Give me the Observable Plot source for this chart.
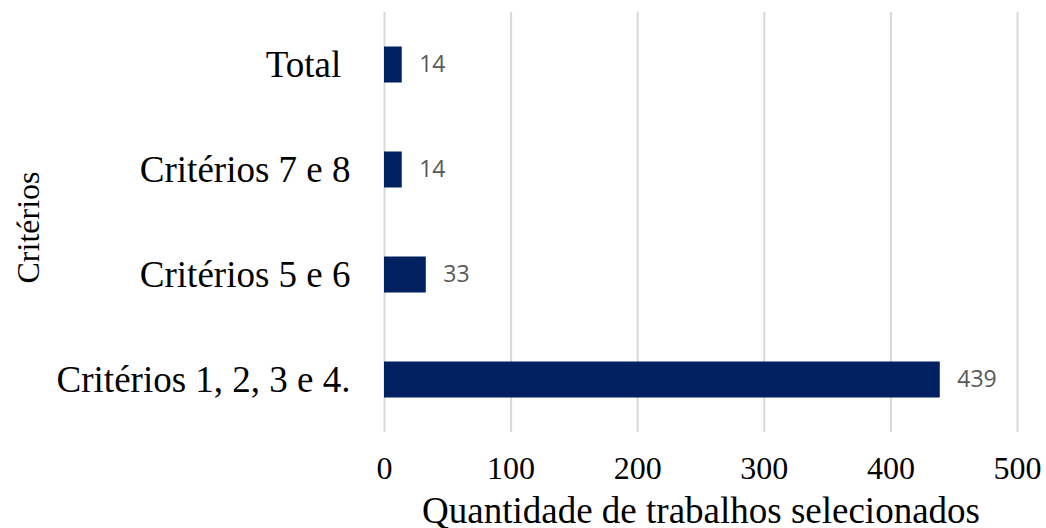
<!DOCTYPE html>
<html>
<head>
<meta charset="utf-8">
<script src="https://cdn.jsdelivr.net/npm/d3@7"></script>
<script src="https://cdn.jsdelivr.net/npm/@observablehq/plot@0.6"></script>
<style>
  html, body { margin: 0; padding: 0; background: #fff; }
</style>
</head>
<body>
<div id="chart"></div>
<script>
const categories = ["Total", "Critérios 7 e 8", "Critérios 5 e 6", "Critérios 1, 2, 3 e 4."];
const values = [14, 14, 33, 439];
const xTicks = [0, 100, 200, 300, 400, 500];
const xLabel = "Quantidade de trabalhos selecionados";
const yLabel = "Critérios";

const data = categories.map((c, i) => ({category: c, value: values[i]}));
const serif = "'Liberation Serif', 'Times New Roman', serif";

const chart = Plot.plot({
  width: 1046,
  height: 528,
  marginTop: 12,
  marginBottom: 96,
  marginLeft: 384,
  marginRight: 29,
  style: {background: "#fff"},
  x: {domain: [0, 500], ticks: xTicks},
  y: {domain: categories, padding: 0},
  marks: [
    Plot.gridX(xTicks, {stroke: "#d9d9d9", strokeOpacity: 1, strokeWidth: 2}),
    Plot.barX(data, {x: "value", y: "category", fill: "#002060", insetTop: 34.5, insetBottom: 34.5}),
    Plot.text(data, {x: "value", y: "category", text: d => String(d.value), dx: 17, textAnchor: "start",
      fill: "#595959", fontSize: 23, fontFamily: "'Open Sans', 'DejaVu Sans', sans-serif"}),
    Plot.axisX({ticks: xTicks, tickSize: 0, tickPadding: 24, fontSize: 32, fontFamily: serif, label: null, fill: "#000"}),
    Plot.axisY({tickSize: 0, tickPadding: 34, fontSize: 37, fontFamily: serif, label: null, fill: "#000",
      tickFormat: d => d === "Total" ? d + "\u00a0" : d}),
    Plot.text([xLabel], {frameAnchor: "bottom", dy: 79, text: d => d, fontSize: 37, fontFamily: serif, fill: "#000", lineAnchor: "middle"}),
    Plot.text([yLabel], {frameAnchor: "left", dx: -356, dy: 5, text: d => d, rotate: -90, textAnchor: "middle", fontSize: 32, fontFamily: serif, fill: "#000", lineAnchor: "middle"})
  ]
});
document.getElementById("chart").appendChild(chart);
</script>
</body>
</html>
